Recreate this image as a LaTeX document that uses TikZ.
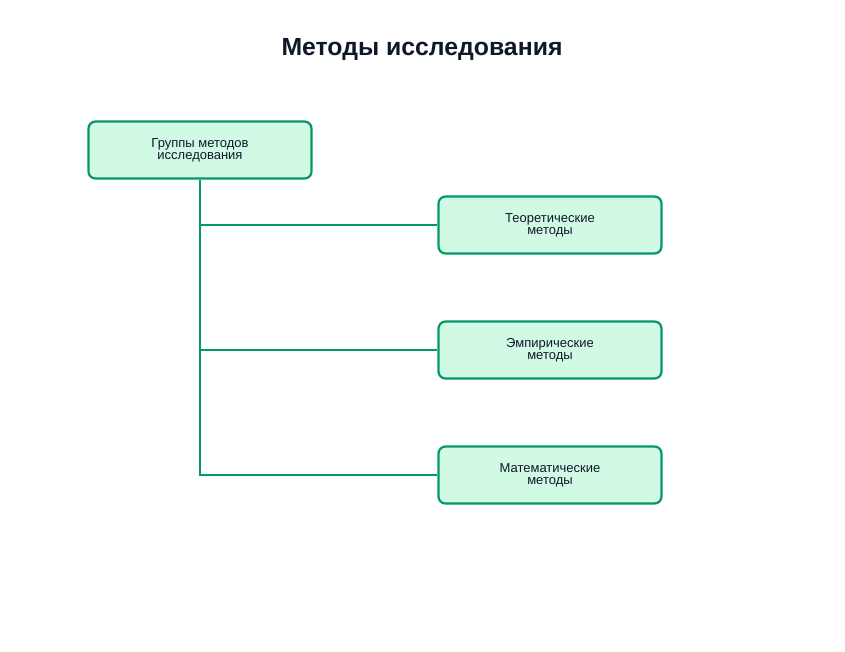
\documentclass[tikz,border=0pt]{standalone}
\usepackage{fontspec}
\setmainfont{Liberation Sans}
\definecolor{edge}{HTML}{059669}
\definecolor{boxfill}{HTML}{D1FAE5}
\definecolor{titlec}{HTML}{0F172A}
\begin{document}
\begin{tikzpicture}[x=1pt,y=-1pt,
  box/.style={draw=edge,fill=boxfill,line width=2.2pt,rounded corners=7pt,minimum width=223pt,minimum height=57pt,align=center,inner sep=0pt,font=\fontsize{13}{12}\selectfont,text=titlec},
  link/.style={draw=edge,line width=2.4pt}]
\useasboundingbox (0,0) rectangle (845,651);
\node[font=\fontsize{24.8}{28}\selectfont\bfseries,text=titlec] (title) at (422,49) {Методы исследования};
\node[box] (root) at (200,150) {Группы методов\\исследования};
\node[box] (t) at (550,225) {Теоретические\\методы};
\node[box] (e) at (550,350) {Эмпирические\\методы};
\node[box] (m) at (550,475) {Математические\\методы};
\coordinate (j3) at (200,475);
\draw[link] (root.south) -- (j3) -- (m.west);
\draw[link] (root.south |- t.west) -- (t.west);
\draw[link] (root.south |- e.west) -- (e.west);
\end{tikzpicture}
\end{document}
